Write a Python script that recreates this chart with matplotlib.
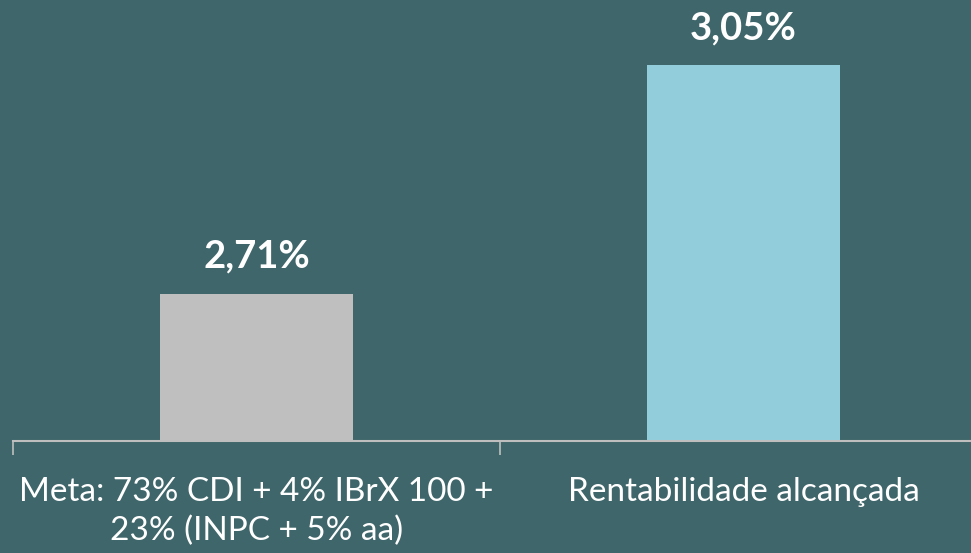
import matplotlib.pyplot as plt

# chart data
categories = ["Meta: 73% CDI + 4% IBrX 100 +\n23% (INPC + 5% aa)", "Rentabilidade alcançada"]
values = [2.71, 3.05]
value_labels = ["2,71%", "3,05%"]
bar_colors = ["#bfbfbf", "#92cddc"]

bg = "#3f666a"

fig = plt.figure(figsize=(9.71, 5.53), dpi=100, facecolor=bg)
ax = fig.add_axes([13 / 971, 112 / 553, 974 / 971, 441 / 553])
ax.set_facecolor("none")

x = list(range(len(values)))
ax.bar(x, values, width=0.396, color=bar_colors, zorder=2)

ax.set_xlim(-0.5, len(values) - 0.5)
ax.set_ylim(2.4917, 3.1465)

for xi, v, lab in zip(x, values, value_labels):
    ax.text(xi, v + 0.0386, lab, ha="center", va="baseline", color="white",
            fontsize=27.5, fontweight="bold", family="Lato")

for s in ["top", "right", "left"]:
    ax.spines[s].set_visible(False)
ax.spines["bottom"].set_color("#bfbfbf")
ax.spines["bottom"].set_linewidth(1.5)
ax.set_yticks([])
ax.set_xticks([-0.5, 0.5, 1.5])
ax.set_xticklabels([])
ax.tick_params(axis="x", length=10, width=1.2, color="#bfbfbf")
ax.set_xticks(x, minor=True)
ax.set_xticklabels(categories, minor=True)
ax.tick_params(axis="x", which="minor", length=0, pad=26, labelcolor="white",
               labelsize=24)
for t in ax.get_xticklabels(minor=True):
    t.set_family("Lato")
    t.set_linespacing(1.35)

fig.savefig("out.png", dpi=100, facecolor=bg)
